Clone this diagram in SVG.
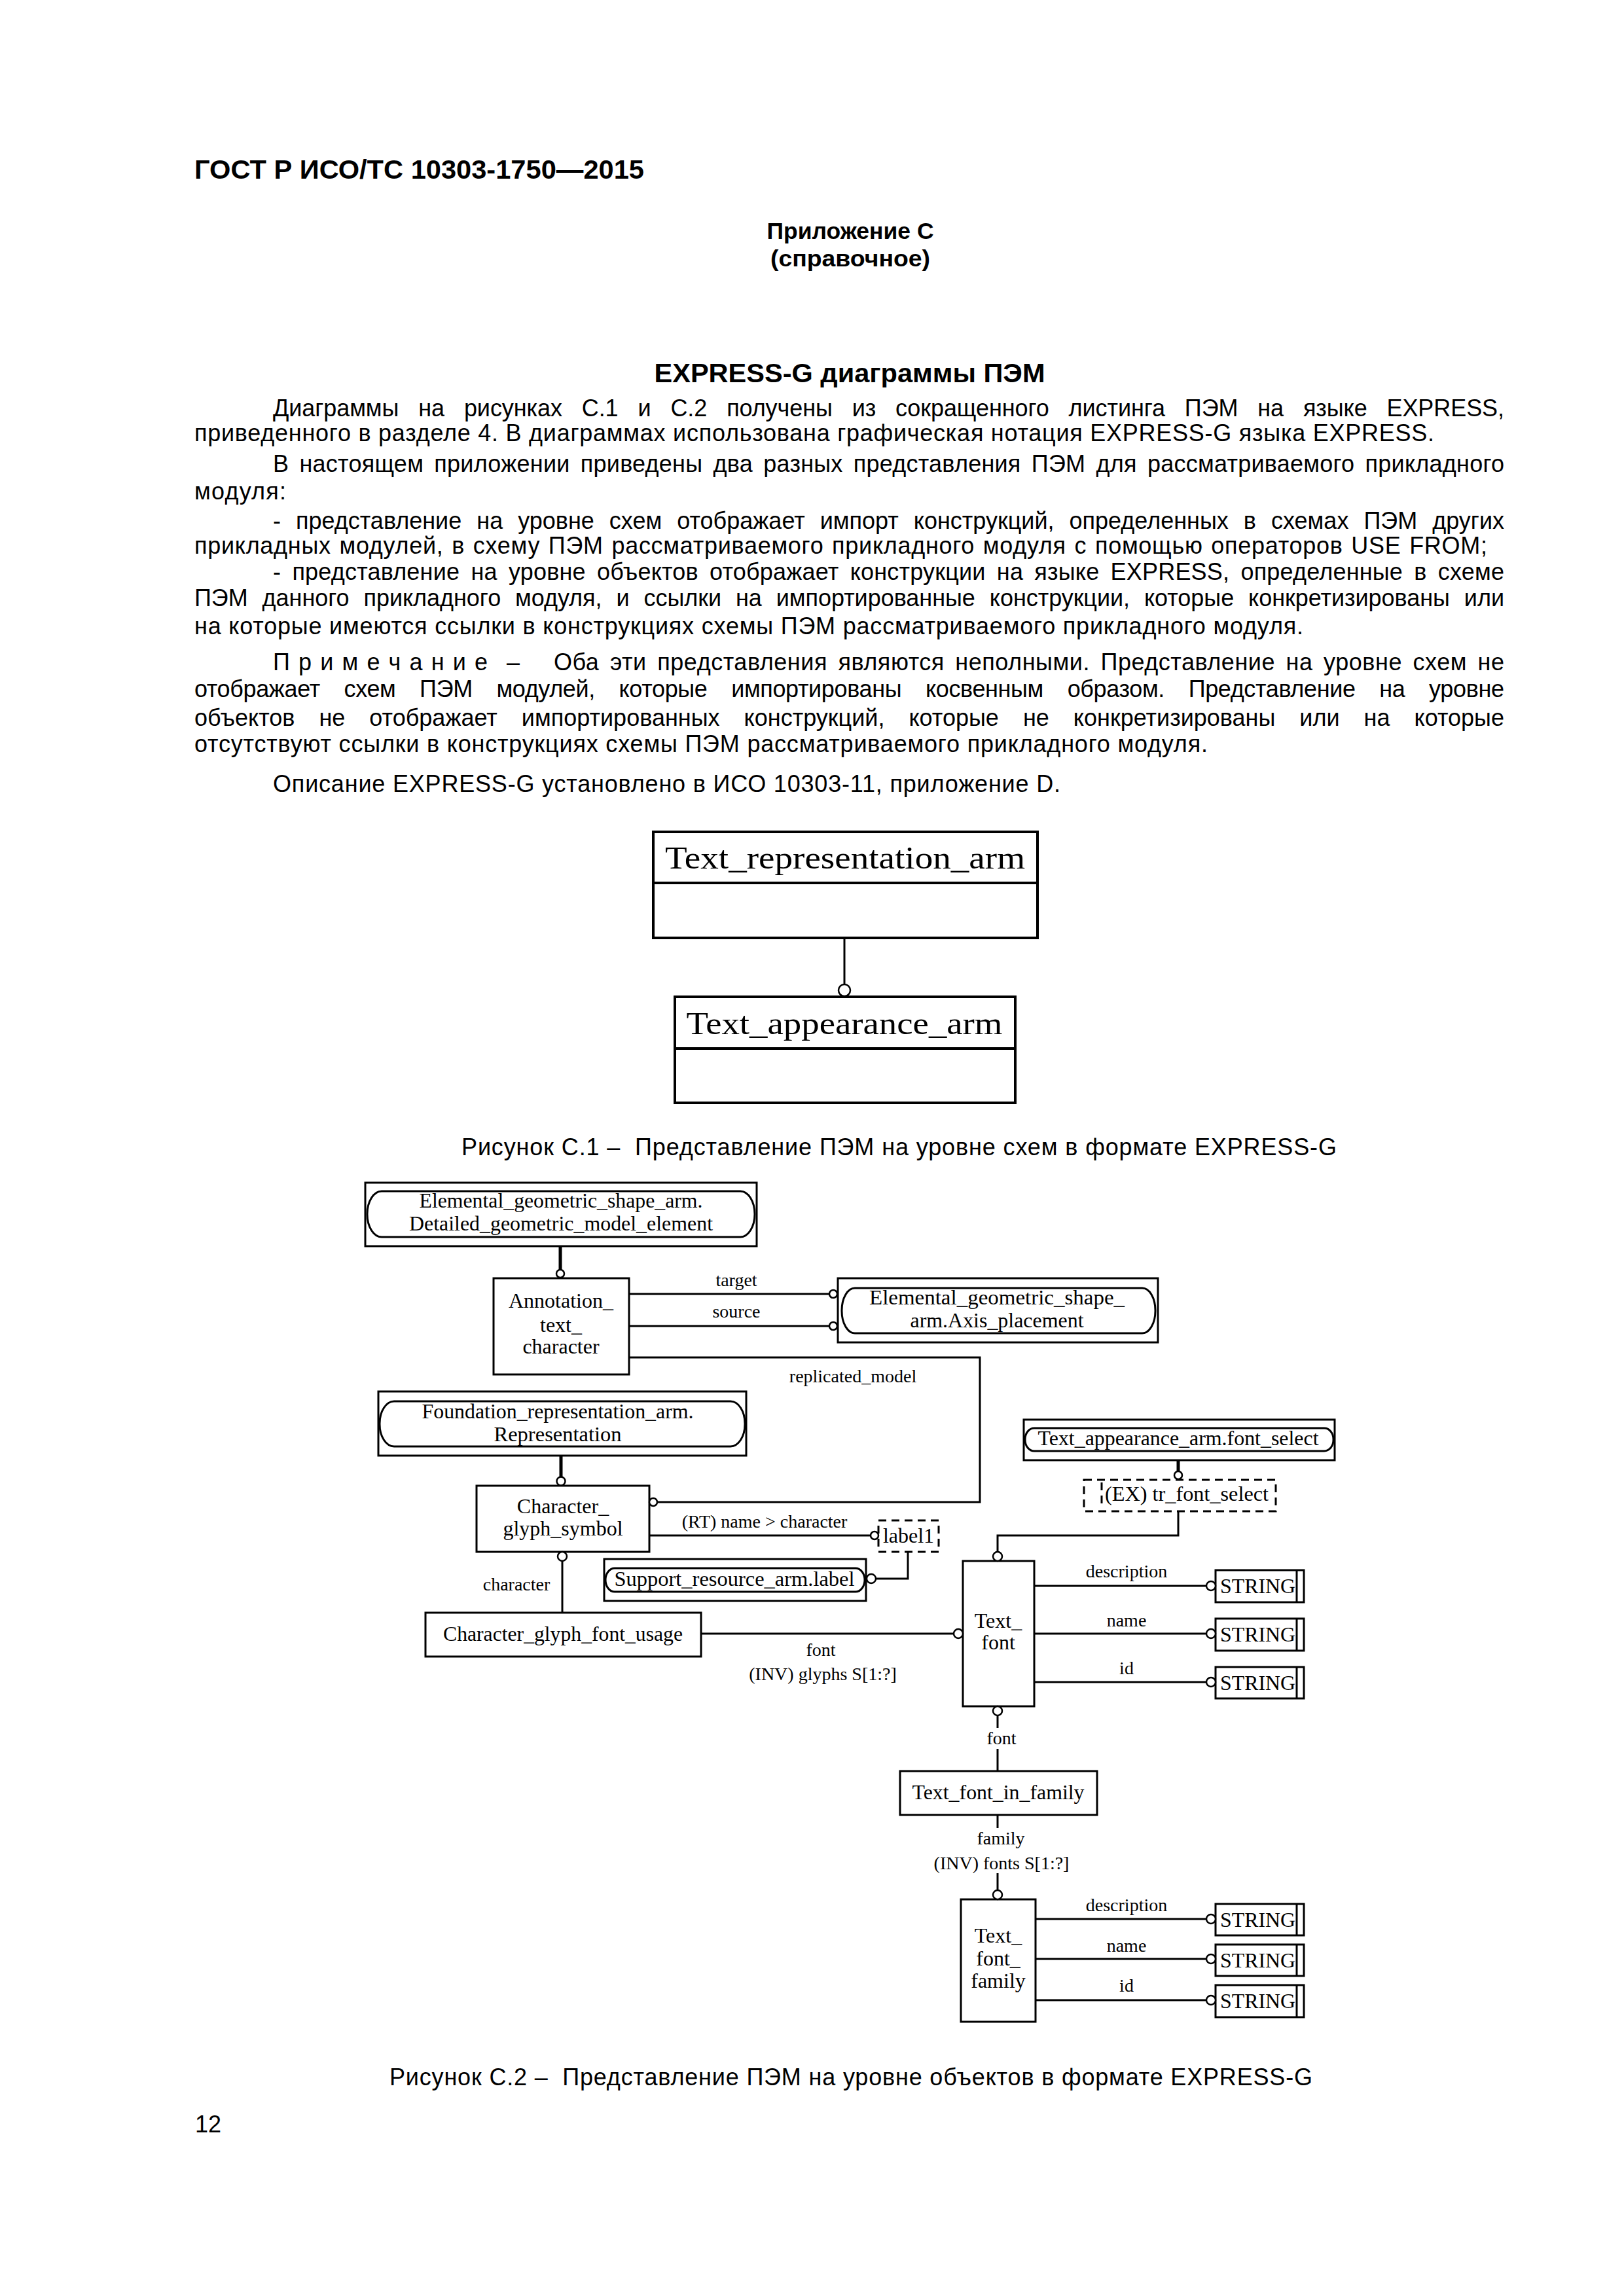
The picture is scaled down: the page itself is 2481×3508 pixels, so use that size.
<svg xmlns="http://www.w3.org/2000/svg" width="2481" height="3508" viewBox="0 0 2481 3508">
<style>
.h{font-family:"Liberation Sans",Arial,sans-serif;font-weight:bold;fill:#000}
.b{font-family:"Liberation Sans",Arial,sans-serif;font-size:36px;fill:#000}
.big{font-family:"Liberation Serif","Times New Roman",serif;font-size:48px;fill:#000}
.s{font-family:"Liberation Serif","Times New Roman",serif;font-size:32px;fill:#000}
.l{font-family:"Liberation Serif","Times New Roman",serif;font-size:28px;fill:#000}
.m{text-anchor:middle}
.box{fill:#fff;stroke:#000;stroke-width:3}
.box4{fill:#fff;stroke:#000;stroke-width:4}
.rr{fill:none;stroke:#000;stroke-width:3}
.dash{fill:none;stroke:#000;stroke-width:3;stroke-dasharray:12 8}
.ln{fill:none;stroke:#000;stroke-width:3}
.thick{fill:none;stroke:#000;stroke-width:5}
.c{fill:#fff;stroke:#000;stroke-width:2.5}
</style>
<rect width="2481" height="3508" fill="#fff"/>

<g id="page-text">
<text class="h" x="297" y="273" font-size="41" textLength="687" lengthAdjust="spacingAndGlyphs">ГОСТ Р ИСО/ТС 10303-1750—2015</text>
<text class="h m" x="1299" y="365" font-size="35" textLength="255" lengthAdjust="spacingAndGlyphs">Приложение С</text>
<text class="h m" x="1299" y="407" font-size="35" textLength="244" lengthAdjust="spacingAndGlyphs">(справочное)</text>
<text class="h m" x="1298" y="584" font-size="40" textLength="597" lengthAdjust="spacingAndGlyphs">EXPRESS-G диаграммы ПЭМ</text>

<text class="b" x="417" y="636" word-spacing="20" textLength="1881" lengthAdjust="spacing">Диаграммы на рисунках С.1 и С.2 получены из сокращенного листинга ПЭМ на языке EXPRESS,</text>
<text class="b" x="297" y="674" textLength="1894" lengthAdjust="spacing">приведенного в разделе 4. В диаграммах использована графическая нотация EXPRESS-G языка EXPRESS.</text>
<text class="b" x="417" y="721" word-spacing="6" textLength="1881" lengthAdjust="spacing">В настоящем приложении приведены два разных представления ПЭМ для рассматриваемого прикладного</text>
<text class="b" x="297" y="763" textLength="140" lengthAdjust="spacing">модуля:</text>
<text class="b" x="417" y="808" word-spacing="13" textLength="1881" lengthAdjust="spacing">- представление на уровне схем отображает импорт конструкций, определенных в схемах ПЭМ других</text>
<text class="b" x="297" y="846" word-spacing="2" textLength="1975" lengthAdjust="spacing">прикладных модулей, в схему ПЭМ рассматриваемого прикладного модуля с помощью операторов USE FROM;</text>
<text class="b" x="417" y="886" word-spacing="7" textLength="1881" lengthAdjust="spacing">- представление на уровне объектов отображает конструкции на языке EXPRESS, определенные в схеме</text>
<text class="b" x="297" y="926" word-spacing="12" textLength="2001" lengthAdjust="spacing">ПЭМ данного прикладного модуля, и ссылки на импортированные конструкции, которые конкретизированы или</text>
<text class="b" x="297" y="969" textLength="1694" lengthAdjust="spacing">на которые имеются ссылки в конструкциях схемы ПЭМ рассматриваемого прикладного модуля.</text>
<text class="b" x="417" y="1024" textLength="328" lengthAdjust="spacing">П р и м е ч а н и е</text>
<text class="b" x="774" y="1024">–</text>
<text class="b" x="846" y="1024" word-spacing="6" textLength="1452" lengthAdjust="spacing">Оба эти представления являются неполными. Представление на уровне схем не</text>
<text class="b" x="297" y="1065" word-spacing="27" textLength="2001" lengthAdjust="spacing">отображает схем ПЭМ модулей, которые импортированы косвенным образом. Представление на уровне</text>
<text class="b" x="297" y="1109" word-spacing="27" textLength="2001" lengthAdjust="spacing">объектов не отображает импортированных конструкций, которые не конкретизированы или на которые</text>
<text class="b" x="297" y="1149" textLength="1548" lengthAdjust="spacing">отсутствуют ссылки в конструкциях схемы ПЭМ рассматриваемого прикладного модуля.</text>
<text class="b" x="417" y="1210" textLength="1203" lengthAdjust="spacing">Описание EXPRESS-G установлено в ИСО 10303-11, приложение D.</text>

<text class="b" x="705" y="1765" textLength="1337" lengthAdjust="spacing">Рисунок С.1 –&#160; Представление ПЭМ на уровне схем в формате EXPRESS-G</text>
<text class="b" x="595" y="3186" textLength="1410" lengthAdjust="spacing">Рисунок С.2 –&#160; Представление ПЭМ на уровне объектов в формате EXPRESS-G</text>
<text class="b" x="298" y="3258">12</text>
</g>

<!-- Figure C.1 -->
<g id="c1-text_representation_arm">
<rect class="box4" x="998" y="1271" width="587" height="162"/>
<line class="box4" x1="998" y1="1349" x2="1585" y2="1349"/>
<text class="big m" x="1291" y="1327" textLength="550" lengthAdjust="spacingAndGlyphs">Text_representation_arm</text>
</g>
<g id="c1-text_appearance_arm">
<rect class="box4" x="1031" y="1523" width="520" height="162"/>
<line class="box4" x1="1031" y1="1602" x2="1551" y2="1602"/>
<text class="big m" x="1290" y="1580" textLength="483" lengthAdjust="spacingAndGlyphs">Text_appearance_arm</text>
</g>

<!-- Figure C.2 nodes -->
<g id="n-elemental-detailed">
<rect class="box" x="558" y="1807" width="598" height="97"/>
<rect class="rr" x="561" y="1820" width="592" height="70" rx="22" ry="35"/>
<text class="s m" x="857" y="1845" textLength="433" lengthAdjust="spacingAndGlyphs">Elemental_geometric_shape_arm.</text>
<text class="s m" x="857" y="1880" textLength="464" lengthAdjust="spacingAndGlyphs">Detailed_geometric_model_element</text>
</g>
<g id="n-annotation-text-character">
<rect class="box" x="754" y="1953" width="207" height="147"/>
<text class="s m" x="857" y="1998">Annotation_</text>
<text class="s m" x="857" y="2035">text_</text>
<text class="s m" x="857" y="2068">character</text>
</g>
<g id="n-elemental-axis">
<rect class="box" x="1280" y="1953" width="489" height="98"/>
<rect class="rr" x="1286" y="1968" width="479" height="69" rx="20" ry="34"/>
<text class="s m" x="1523" y="1993" textLength="390" lengthAdjust="spacingAndGlyphs">Elemental_geometric_shape_</text>
<text class="s m" x="1523" y="2028" textLength="265" lengthAdjust="spacingAndGlyphs">arm.Axis_placement</text>
</g>
<g id="n-foundation-representation">
<rect class="box" x="578" y="2126" width="562" height="98"/>
<rect class="rr" x="580" y="2141" width="558" height="69" rx="22" ry="34"/>
<text class="s m" x="852" y="2167" textLength="415" lengthAdjust="spacingAndGlyphs">Foundation_representation_arm.</text>
<text class="s m" x="852" y="2202" textLength="195" lengthAdjust="spacingAndGlyphs">Representation</text>
</g>
<g id="n-character-glyph-symbol">
<rect class="box" x="728" y="2270" width="264" height="101"/>
<text class="s m" x="860" y="2312">Character_</text>
<text class="s m" x="860" y="2346">glyph_symbol</text>
</g>
<g id="n-label1">
<rect class="dash" x="1342" y="2323" width="92" height="48"/>
<text class="s m" x="1388" y="2357">label1</text>
</g>
<g id="n-support-resource-label">
<rect class="box" x="923" y="2382" width="400" height="64"/>
<rect class="rr" x="925" y="2396" width="396" height="36" rx="14" ry="18"/>
<text class="s m" x="1122" y="2423" textLength="367" lengthAdjust="spacingAndGlyphs">Support_resource_arm.label</text>
</g>
<g id="n-character-glyph-font-usage">
<rect class="box" x="650" y="2464" width="421" height="67"/>
<text class="s m" x="860" y="2507" textLength="366" lengthAdjust="spacingAndGlyphs">Character_glyph_font_usage</text>
</g>
<g id="n-font-select">
<rect class="box" x="1564" y="2169" width="475" height="62"/>
<rect class="rr" x="1566" y="2182" width="471" height="35" rx="14" ry="17"/>
<text class="s m" x="1800" y="2208" textLength="429" lengthAdjust="spacingAndGlyphs">Text_appearance_arm.font_select</text>
</g>
<g id="n-tr-font-select">
<rect class="dash" x="1656" y="2261" width="293" height="48"/>
<line class="dash" x1="1683" y1="2265" x2="1683" y2="2305"/>
<text class="s" x="1688" y="2293" textLength="250" lengthAdjust="spacingAndGlyphs">(EX) tr_font_select</text>
</g>
<g id="n-text-font">
<rect class="box" x="1471" y="2385" width="109" height="222"/>
<text class="s m" x="1525" y="2487">Text_</text>
<text class="s m" x="1525" y="2520">font</text>
</g>
<g id="n-string-1">
<rect class="box" x="1857" y="2399" width="135" height="49"/>
<line class="ln" x1="1981" y1="2399" x2="1981" y2="2448"/>
<text class="s" x="1864" y="2434" textLength="115" lengthAdjust="spacingAndGlyphs">STRING</text>
</g>
<g id="n-string-2">
<rect class="box" x="1857" y="2473" width="135" height="49"/>
<line class="ln" x1="1981" y1="2473" x2="1981" y2="2522"/>
<text class="s" x="1864" y="2508" textLength="115" lengthAdjust="spacingAndGlyphs">STRING</text>
</g>
<g id="n-string-3">
<rect class="box" x="1857" y="2547" width="135" height="48"/>
<line class="ln" x1="1981" y1="2547" x2="1981" y2="2595"/>
<text class="s" x="1864" y="2582" textLength="115" lengthAdjust="spacingAndGlyphs">STRING</text>
</g>
<g id="n-text-font-in-family">
<rect class="box" x="1375" y="2706" width="301" height="67"/>
<text class="s m" x="1525" y="2749" textLength="263" lengthAdjust="spacingAndGlyphs">Text_font_in_family</text>
</g>
<g id="n-text-font-family">
<rect class="box" x="1468" y="2902" width="114" height="187"/>
<text class="s m" x="1525" y="2968">Text_</text>
<text class="s m" x="1525" y="3003">font_</text>
<text class="s m" x="1525" y="3037">family</text>
</g>
<g id="n-string-4">
<rect class="box" x="1857" y="2909" width="135" height="48"/>
<line class="ln" x1="1981" y1="2909" x2="1981" y2="2957"/>
<text class="s" x="1864" y="2944" textLength="115" lengthAdjust="spacingAndGlyphs">STRING</text>
</g>
<g id="n-string-5">
<rect class="box" x="1857" y="2971" width="135" height="48"/>
<line class="ln" x1="1981" y1="2971" x2="1981" y2="3019"/>
<text class="s" x="1864" y="3006" textLength="115" lengthAdjust="spacingAndGlyphs">STRING</text>
</g>
<g id="n-string-6">
<rect class="box" x="1857" y="3033" width="135" height="49"/>
<line class="ln" x1="1981" y1="3033" x2="1981" y2="3082"/>
<text class="s" x="1864" y="3068" textLength="115" lengthAdjust="spacingAndGlyphs">STRING</text>
</g>

<g id="connectors">
<!-- C.1 -->
<line class="ln" x1="1290" y1="1433" x2="1290" y2="1504" stroke-width="4"/>
<circle class="c" cx="1290" cy="1513" r="9" stroke-width="3"/>

<!-- supertype links -->
<line class="thick" x1="856" y1="1904" x2="856" y2="1940"/>
<circle class="c" cx="856" cy="1946" r="6" stroke-width="3"/>
<line class="thick" x1="857" y1="2224" x2="857" y2="2256"/>
<circle class="c" cx="857" cy="2263" r="6.5" stroke-width="3"/>
<line class="thick" x1="1800" y1="2231" x2="1800" y2="2248"/>
<circle class="c" cx="1800" cy="2254" r="6" stroke-width="3"/>

<!-- target / source -->
<line class="ln" x1="961" y1="1977" x2="1267" y2="1977"/>
<circle class="c" cx="1273" cy="1977" r="6"/>
<line class="ln" x1="961" y1="2026" x2="1267" y2="2026"/>
<circle class="c" cx="1273" cy="2026" r="6"/>

<!-- replicated_model -->
<polyline class="ln" points="961,2074 1497,2074 1497,2295 1004,2295"/>
<circle class="c" cx="998" cy="2295" r="6"/>

<!-- (RT) name > character -->
<line class="ln" x1="992" y1="2346" x2="1330" y2="2346"/>
<circle class="c" cx="1336" cy="2346" r="6"/>

<!-- label1 to Support_resource -->
<polyline class="ln" points="1387,2371 1387,2412 1338,2412"/>
<circle class="c" cx="1331" cy="2412" r="7"/>

<!-- character -->
<circle class="c" cx="859" cy="2378" r="7"/>
<line class="ln" x1="859" y1="2385" x2="859" y2="2464"/>

<!-- font (INV) glyphs -->
<line class="ln" x1="1071" y1="2496" x2="1457" y2="2496"/>
<circle class="c" cx="1464" cy="2496" r="7"/>

<!-- tr_font_select to Text_font -->
<polyline class="ln" points="1800,2309 1800,2346 1524,2346 1524,2371"/>
<circle class="c" cx="1524" cy="2378" r="7"/>

<!-- Text_font attributes -->
<line class="ln" x1="1580" y1="2423" x2="1843" y2="2423"/>
<circle class="c" cx="1850" cy="2423" r="7"/>
<line class="ln" x1="1580" y1="2496" x2="1843" y2="2496"/>
<circle class="c" cx="1850" cy="2496" r="7"/>
<line class="ln" x1="1580" y1="2570" x2="1843" y2="2570"/>
<circle class="c" cx="1850" cy="2570" r="7"/>

<!-- Text_font to Text_font_in_family -->
<circle class="c" cx="1524" cy="2614" r="7"/>
<line class="ln" x1="1524" y1="2621" x2="1524" y2="2640"/>
<line class="ln" x1="1524" y1="2672" x2="1524" y2="2706"/>

<!-- Text_font_in_family to Text_font_family -->
<line class="ln" x1="1524" y1="2773" x2="1524" y2="2793"/>
<line class="ln" x1="1524" y1="2862" x2="1524" y2="2888"/>
<circle class="c" cx="1524" cy="2895" r="7"/>

<!-- Text_font_family attributes -->
<line class="ln" x1="1582" y1="2932" x2="1843" y2="2932"/>
<circle class="c" cx="1850" cy="2932" r="7"/>
<line class="ln" x1="1582" y1="2993" x2="1843" y2="2993"/>
<circle class="c" cx="1850" cy="2993" r="7"/>
<line class="ln" x1="1582" y1="3056" x2="1843" y2="3056"/>
<circle class="c" cx="1850" cy="3056" r="7"/>

<!-- connector labels -->
<text class="l m" x="1125" y="1965">target</text>
<text class="l m" x="1125" y="2013">source</text>
<text class="l m" x="1303" y="2112">replicated_model</text>
<text class="l m" x="1168" y="2334">(RT) name &gt; character</text>
<text class="l m" x="789" y="2430">character</text>
<text class="l m" x="1254" y="2530">font</text>
<text class="l m" x="1257" y="2567">(INV) glyphs S[1:?]</text>
<text class="l m" x="1721" y="2410">description</text>
<text class="l m" x="1721" y="2485">name</text>
<text class="l m" x="1721" y="2558">id</text>
<text class="l m" x="1530" y="2665">font</text>
<text class="l m" x="1529" y="2818">family</text>
<text class="l m" x="1530" y="2856">(INV) fonts S[1:?]</text>
<text class="l m" x="1721" y="2920">description</text>
<text class="l m" x="1721" y="2982">name</text>
<text class="l m" x="1721" y="3043">id</text>
</g>
</svg>
